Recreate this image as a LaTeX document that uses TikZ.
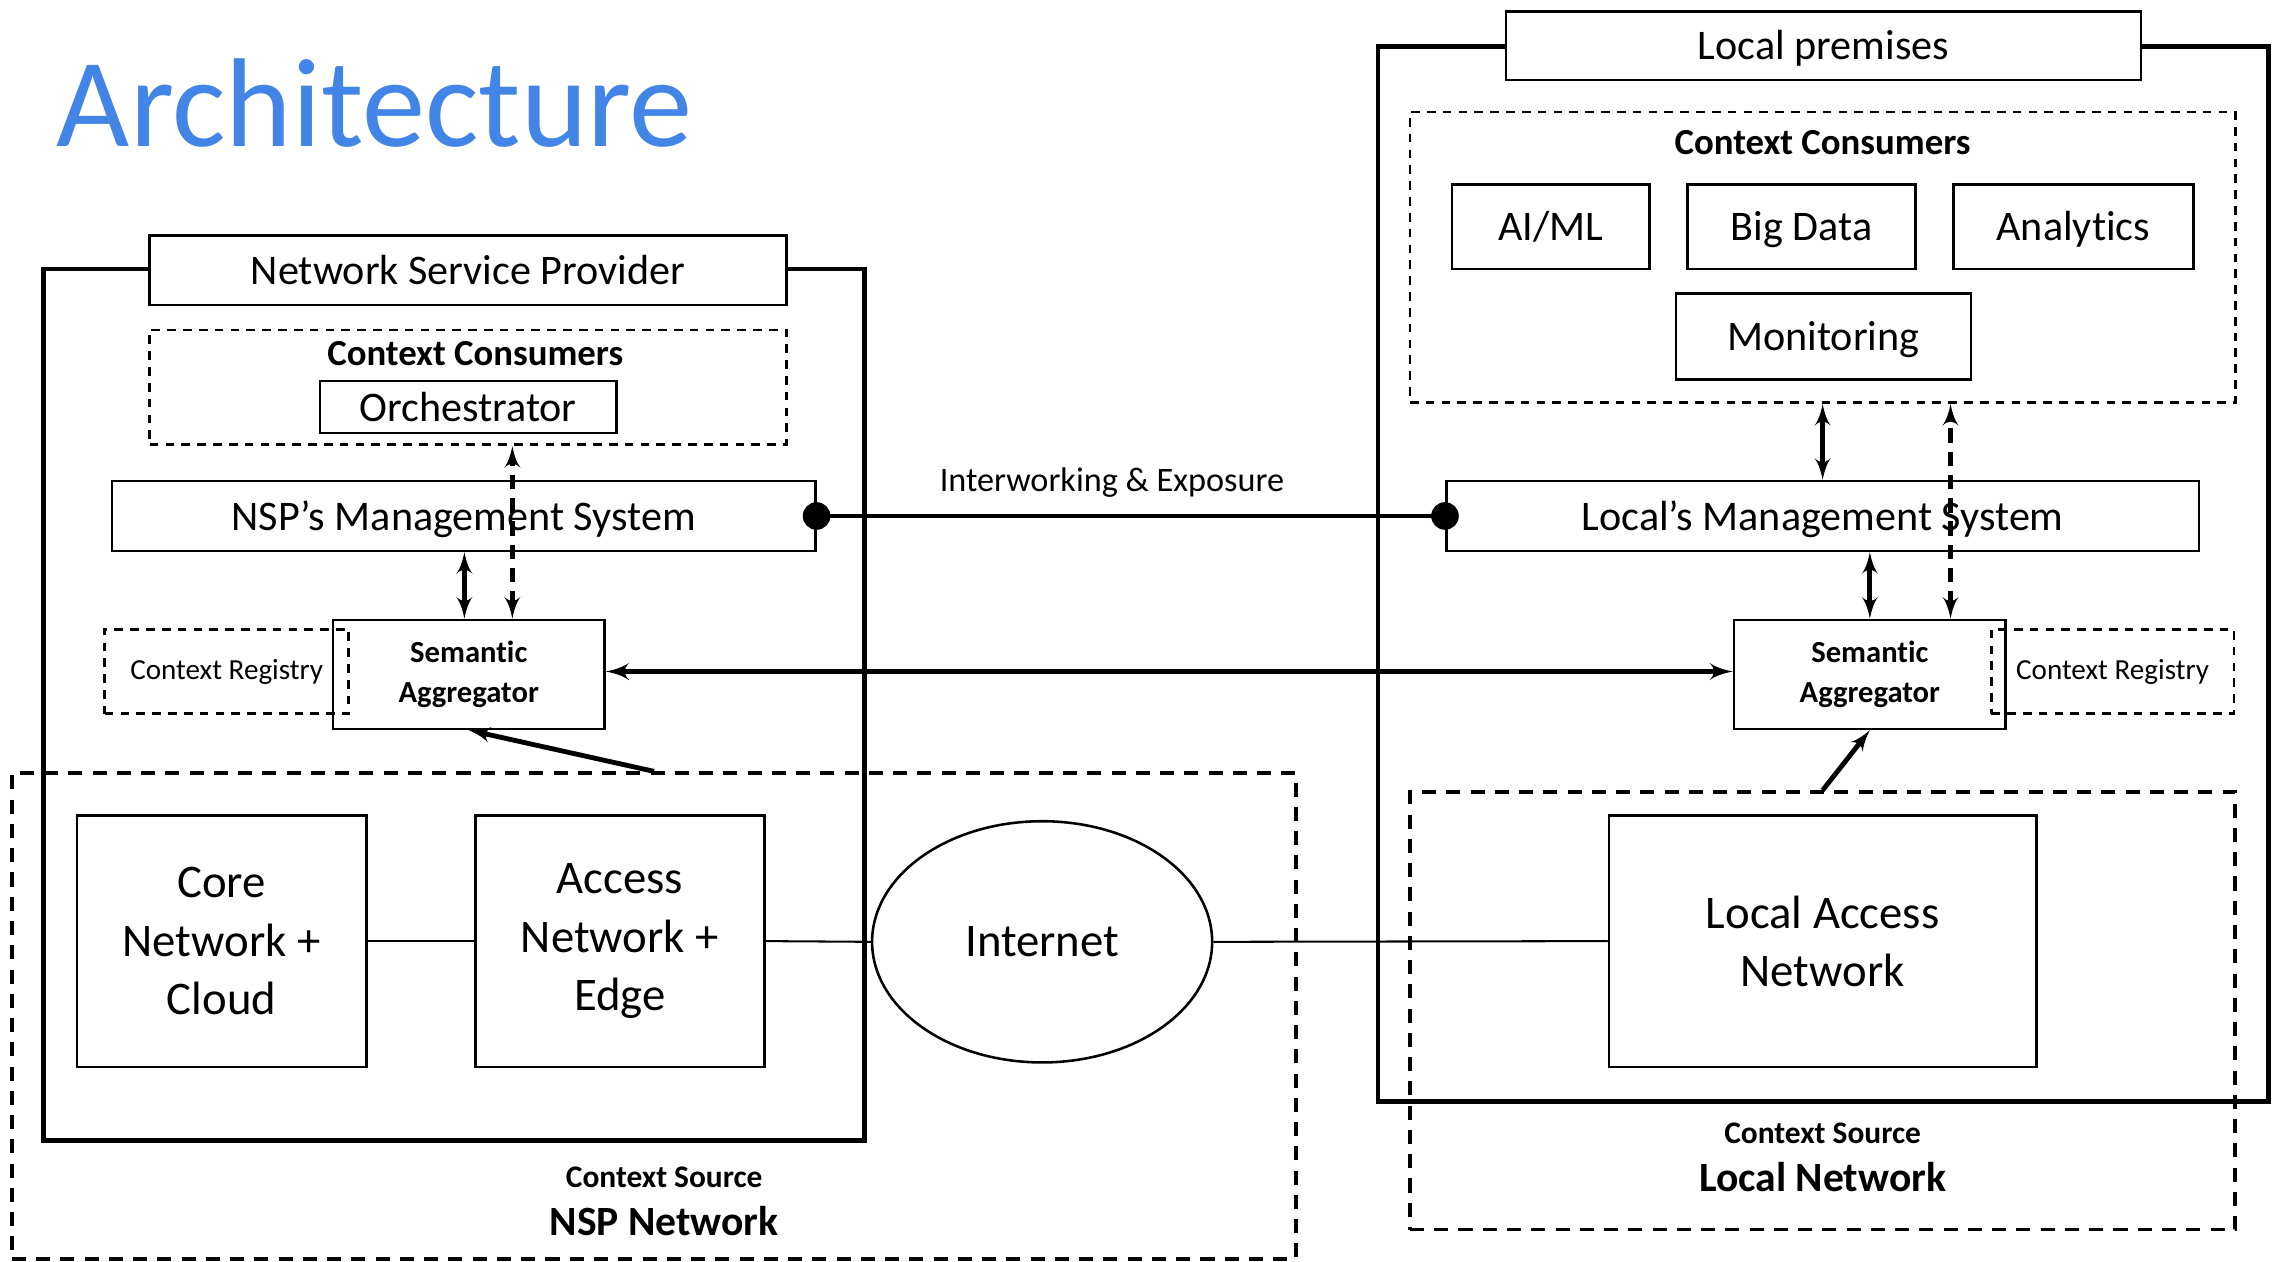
\documentclass[tikz,border=0pt]{standalone}
\usepackage{fontspec}
\setmainfont{Carlito}[Ligatures=NoCommon]
\usetikzlibrary{shapes,arrows,calc}
\definecolor{titleblue}{RGB}{66,133,230}
\tikzstyle{frame} = [draw, rectangle, line width=1.9pt, inner sep=0pt]
\tikzstyle{block} = [draw, rectangle, text centered, line width=1pt, inner sep=0pt, text height=12.6pt, text depth=1.6pt, font=\fontsize{16.5}{19}\selectfont]
\tikzstyle{header} = [block, fill=white]
\tikzstyle{bigblock} = [block, text height=, text depth=, align=center, font=\fontsize{18.3}{22.8}\selectfont]
\tikzstyle{aggr} = [block, text height=, text depth=, align=center, font=\fontsize{12}{16}\selectfont\bfseries]
\tikzstyle{group} = [draw, rectangle, line width=1.1pt, dash pattern=on 3.4pt off 2.8pt, inner sep=0pt]
\tikzstyle{source} = [draw, rectangle, line width=1.5pt, dash pattern=on 5.5pt off 4pt, inner sep=0pt]
\tikzstyle{registry} = [group, font=\fontsize{11.4}{14}\selectfont]
\tikzstyle{line} = [draw, line width=0.8pt]
\tikzstyle{link} = [draw, line width=1.9pt, latex'-latex']
\tikzstyle{dlink} = [link, dash pattern=on 5.7pt off 3.4pt]
\tikzstyle{feed} = [draw, line width=1.9pt, -latex']

\begin{document}
\begin{tikzpicture}[x=0.02cm, y=-0.02cm]
    \useasboundingbox (0,0) rectangle (1568,868);
    \node[anchor=base west, text=titleblue, font=\fontsize{49.5}{60}\selectfont] (title) at (33,101) {Architecture};

    % NSP side
    \node[frame, minimum width=11.3cm, minimum height=12cm] (nspframe) at (312.5,485) {};
    \node[header, minimum width=8.76cm, minimum height=0.96cm] (nsptitle) at (322,186) {Network Service Provider};
    \node[group, minimum width=8.76cm, minimum height=1.58cm] (nspcons) at (322,266.5) {};
    \node[font=\fontsize{14.4}{17}\selectfont\bfseries] (nspconslabel) at (327,243) {Context Consumers};
    \node[block, minimum width=4.08cm, minimum height=0.72cm] (orch) at (322,280) {Orchestrator};
    \node[block, minimum width=9.68cm, minimum height=0.96cm] (nspms) at (319,355) {NSP’s Management System};
    \node[registry, minimum width=3.36cm, minimum height=1.16cm] (nspreg) at (156,462) {Context Registry};
    \node[aggr, minimum width=3.74cm, minimum height=1.5cm] (nspsa) at (322.5,464) {Semantic\\Aggregator};
    \node[source, minimum width=17.68cm, minimum height=6.68cm] (nspnet) at (450,699) {};
    \node[bigblock, minimum width=3.98cm, minimum height=3.46cm] (core) at (152.5,647.5) {Core\\Network +\\Cloud};
    \node[bigblock, minimum width=3.98cm, minimum height=3.46cm] (access) at (426.5,647.5) {Access\\Network +\\Edge};
    \node[draw, ellipse, line width=1pt, inner sep=0pt, minimum width=4.68cm, minimum height=3.32cm, font=\fontsize{18.3}{22.8}\selectfont] (inet) at (717,648) {Internet};
    \node[font=\fontsize{12.3}{15}\selectfont\bfseries] (nspsrc) at (457,810) {Context Source};
    \node[font=\fontsize{16.3}{19}\selectfont\bfseries] (nspname) at (457,840) {NSP Network};

    % Local side
    \node[frame, minimum width=12.26cm, minimum height=14.52cm] (locframe) at (1254.5,395) {};
    \node[header, minimum width=8.74cm, minimum height=0.94cm] (loctitle) at (1254.5,31.5) {Local premises};
    \node[group, minimum width=11.36cm, minimum height=4cm] (loccons) at (1254,177) {};
    \node[font=\fontsize{14.4}{17}\selectfont\bfseries] (locconslabel) at (1254,98) {Context Consumers};
    \node[block, minimum width=2.72cm, minimum height=1.16cm] (aiml) at (1067,156) {AI/ML};
    \node[block, minimum width=3.14cm, minimum height=1.16cm] (bigdata) at (1239.5,156) {Big Data};
    \node[block, minimum width=3.3cm, minimum height=1.16cm] (analytics) at (1426.5,156) {Analytics};
    \node[block, minimum width=4.06cm, minimum height=1.18cm] (monitor) at (1254.5,231.5) {Monitoring};
    \node[block, minimum width=10.36cm, minimum height=0.96cm] (locms) at (1254,355) {Local’s Management System};
    \node[registry, minimum width=3.34cm, minimum height=1.16cm] (locreg) at (1453.5,462) {Context Registry};
    \node[aggr, minimum width=3.74cm, minimum height=1.5cm] (locsa) at (1286.5,464) {Semantic\\Aggregator};
    \node[source, minimum width=11.36cm, minimum height=6.02cm] (locnet) at (1254,695.5) {};
    \node[bigblock, minimum width=5.88cm, minimum height=3.46cm] (lan) at (1254,647.5) {Local Access\\Network};
    \node[font=\fontsize{12.3}{15}\selectfont\bfseries] (locsrc) at (1254,780) {Context Source};
    \node[font=\fontsize{16.3}{19}\selectfont\bfseries] (locname) at (1254,810) {Local Network};

    % connectors
    \path[line] (core.east) -- (access.west);
    \path[line] (access.east) -- (inet.west);
    \path[line] (inet.east) -- (lan.west);
    \path[draw, line width=1.6pt] (nspms.east) -- node[above=3pt, pos=0.47, font=\fontsize{13.4}{16}\selectfont] {Interworking \& Exposure} (locms.west);
    \fill (nspms.east) circle (0.19cm);
    \fill (locms.west) circle (0.19cm);
    \path[link] ($(nspsa.north)+(-3,0)$) coordinate (a1) -- (a1 |- nspms.south);
    \path[dlink] ($(nspsa.north)+(30,0)$) coordinate (a2) -- (a2 |- nspcons.south);
    \path[link, line width=2.1pt] (nspreg.east -| nspsa.east) -- (nspreg.east -| locsa.west);
    \path[feed] (nspnet.north) -- (nspsa.south);
    \path[link] (locms.north) -- (loccons.south);
    \path[link] (locsa.north) -- (locsa.north |- locms.south);
    \path[dlink] ($(locsa.north)+(55.5,0)$) coordinate (b2) -- (b2 |- loccons.south);
    \path[feed] (locnet.north) -- (locsa.south);
\end{tikzpicture}
\end{document}
